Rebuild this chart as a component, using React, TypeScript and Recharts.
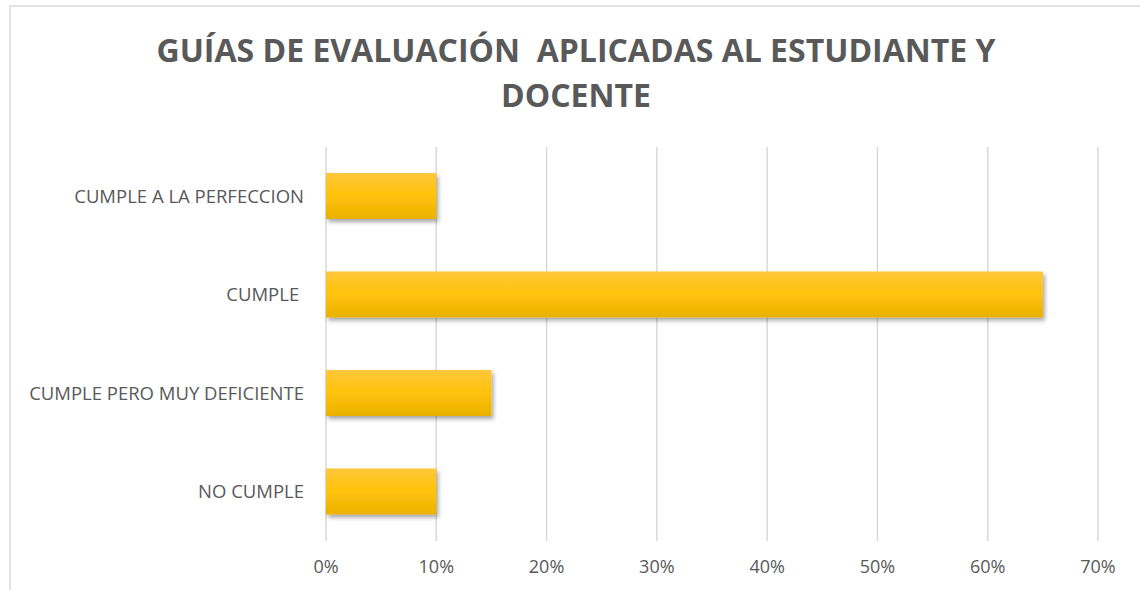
import { Bar, BarChart, CartesianGrid, XAxis, YAxis } from 'recharts'

const categories = [
  'CUMPLE A LA PERFECCION',
  'CUMPLE\u00a0',
  'CUMPLE PERO MUY DEFICIENTE',
  'NO CUMPLE',
]
const values = [0.1, 0.65, 0.15, 0.1]
const xTicks = [0, 0.1, 0.2, 0.3, 0.4, 0.5, 0.6, 0.7]
const titleLines = ['GUÍAS DE EVALUACIÓN  APLICADAS AL ESTUDIANTE Y', 'DOCENTE']

const data = categories.map((name, i) => ({ name, value: values[i] }))

const font = '"Open Sans", sans-serif'

export default function App() {
  return (
    <div
      style={{
        position: 'absolute',
        left: 0,
        top: 0,
        width: 1140,
        height: 590,
        overflow: 'hidden',
        background: '#fff',
        fontFamily: font,
      }}
    >
      <div
        style={{
          position: 'absolute',
          left: 9,
          top: 5,
          width: 1200,
          height: 700,
          border: '2px solid #e3e3e3',
          boxSizing: 'border-box',
        }}
      />
      <div
        style={{
          position: 'absolute',
          left: 9,
          top: 27,
          width: 1134,
          textAlign: 'center',
          color: '#595959',
          fontWeight: 700,
          fontSize: 32,
          lineHeight: '45px',
          whiteSpace: 'pre',
        }}
      >
        {titleLines.join('\n')}
      </div>
      <BarChart
        width={1140}
        height={590}
        data={data}
        layout='vertical'
        margin={{ top: 147, right: 42, bottom: 0, left: 0 }}
        barSize={46}
        style={{ position: 'absolute', left: 0, top: 0 }}
      >
        <defs>
          <linearGradient id='gold' x1='0' y1='0' x2='0' y2='1'>
            <stop offset='0%' stopColor='#ffc73a' />
            <stop offset='50%' stopColor='#ffc20a' />
            <stop offset='100%' stopColor='#e9b102' />
          </linearGradient>
          <filter id='shadow' x='-10%' y='-30%' width='130%' height='170%'>
            <feDropShadow dx='2' dy='3' stdDeviation='2' floodColor='#000' floodOpacity='0.35' />
          </filter>
        </defs>
        <CartesianGrid horizontal={false} stroke='#d9d9d9' strokeWidth={1.5} />
        <XAxis
          type='number'
          domain={[0, 0.7]}
          ticks={xTicks}
          tickFormatter={(v) => `${Math.round(v * 100)}%`}
          axisLine={false}
          tickLine={false}
          tickSize={0}
          tickMargin={19}
          height={49}
          tick={{ fill: '#595959', fontSize: 18, fontFamily: font }}
        />
        <YAxis
          type='category'
          dataKey='name'
          width={326}
          axisLine={false}
          tickLine={false}
          tickSize={0}
          tickMargin={22}
          tick={{ fill: '#595959', fontSize: 18.5, fontFamily: font }}
        />
        <Bar
          dataKey='value'
          fill='url(#gold)'
          filter='url(#shadow)'
          isAnimationActive={false}
        />
      </BarChart>
    </div>
  )
}
